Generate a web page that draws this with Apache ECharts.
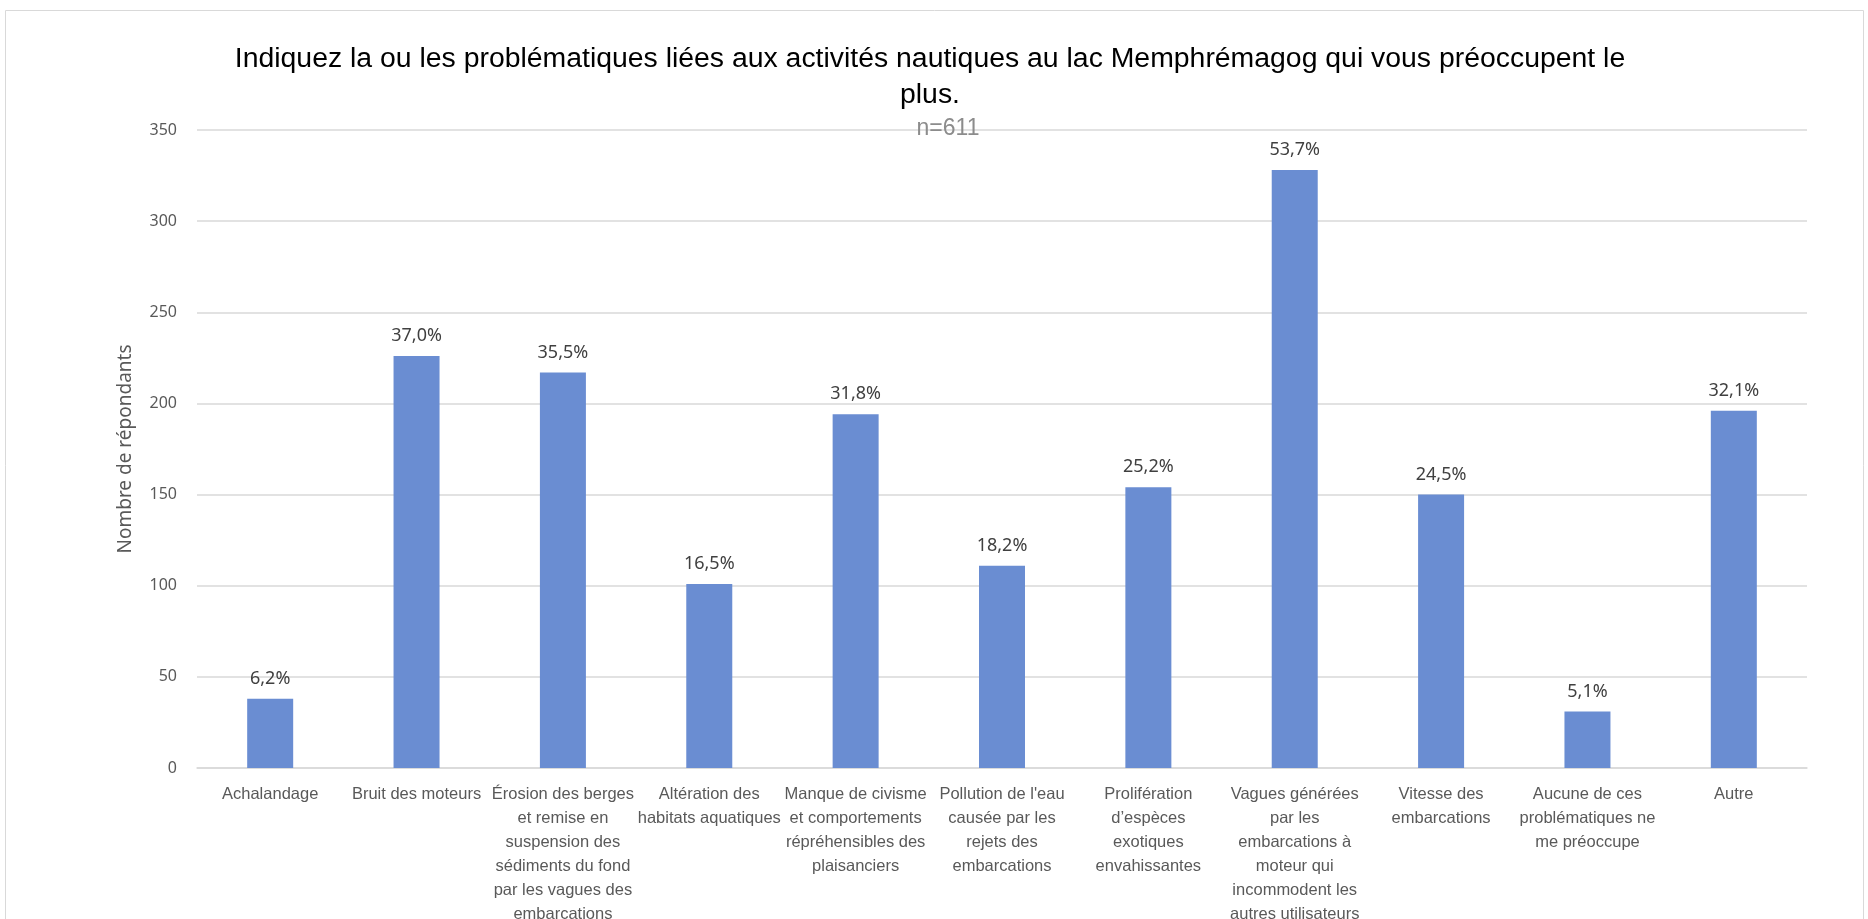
<!DOCTYPE html>
<html>
<head>
<meta charset="utf-8">
<script src="https://cdn.jsdelivr.net/npm/echarts@6/dist/echarts.min.js"></script>
<style>
  html, body { margin: 0; padding: 0; background: #fff; }
  #chart { width: 1868px; height: 919px; }
</style>
</head>
<body>
<div id="chart"></div>
<script>
// catégories (retours à la ligne comme dans l'original)
const categories = [
  'Achalandage',
  'Bruit des moteurs',
  'Érosion des berges\net remise en\nsuspension des\nsédiments du fond\npar les vagues des\nembarcations',
  'Altération des\nhabitats aquatiques',
  'Manque de civisme\net comportements\nrépréhensibles des\nplaisanciers',
  "Pollution de l'eau\ncausée par les\nrejets des\nembarcations",
  'Prolifération\nd’espèces\nexotiques\nenvahissantes',
  'Vagues générées\npar les\nembarcations à\nmoteur qui\nincommodent les\nautres utilisateurs',
  'Vitesse des\nembarcations',
  'Aucune de ces\nproblématiques ne\nme préoccupe',
  'Autre'
]

// nombre de répondants
const repondants = [38, 226, 217, 101, 194, 111, 154, 328, 150, 31, 196]

// étiquettes affichées au-dessus des barres
const pourcentages = ['6,2%', '37,0%', '35,5%', '16,5%', '31,8%', '18,2%', '25,2%', '53,7%', '24,5%', '5,1%', '32,1%']

const yTicks = [0, 50, 100, 150, 200, 250, 300, 350]

const chart = echarts.init(document.getElementById('chart'))

const option = {
  animation: false,
  title: [
    {
      text: 'Indiquez la ou les problématiques liées aux activités nautiques au lac Memphrémagog qui vous préoccupent le\nplus.',
      left: 925,
      top: 36,
      textAlign: 'center',
      textStyle: {
        fontFamily: 'Liberation Sans',
        fontSize: 28.4,
        fontWeight: 'normal',
        color: '#000',
        lineHeight: 36,
        align: 'center'
      }
    },
    {
      text: 'n=611',
      left: 943,
      top: 112,
      textAlign: 'center',
      textStyle: {
        fontFamily: 'Liberation Sans',
        fontSize: 23,
        fontWeight: 'normal',
        color: '#8c8c8c'
      }
    }
  ],
  graphic: [
    {
      type: 'rect',
      shape: { x: 5.5, y: 10.5, width: 1858, height: 920 },
      style: { fill: 'none', stroke: '#d9d9d9', lineWidth: 1 },
      silent: true
    }
  ],
  grid: {
    left: 197,
    right: 61,
    top: 130,
    bottom: 151,
    containLabel: false,
    outerBoundsMode: 'none'
  },
  xAxis: {
    type: 'category',
    data: categories,
    axisLine: { lineStyle: { color: '#d9d9d9', width: 1.5 } },
    axisTick: { show: false },
    axisLabel: {
      interval: 0,
      margin: 14,
      fontFamily: 'Liberation Sans',
      fontSize: 16.5,
      lineHeight: 24,
      color: '#595959'
    }
  },
  yAxis: {
    type: 'value',
    min: yTicks[0],
    max: yTicks[yTicks.length - 1],
    interval: 50,
    name: 'Nombre de répondants',
    nameLocation: 'middle',
    nameRotate: 90,
    nameGap: 62,
    nameTextStyle: {
      fontFamily: 'Noto Sans',
      fontSize: 19,
      color: '#595959'
    },
    axisLine: { show: false },
    axisTick: { show: false },
    axisLabel: {
      margin: 20,
      fontFamily: 'Noto Sans',
      fontSize: 16,
      color: '#595959'
    },
    splitLine: { lineStyle: { color: '#d9d9d9', width: 1.5 } }
  },
  series: [
    {
      type: 'bar',
      data: repondants,
      barWidth: 46,
      itemStyle: { color: '#6a8dd2' },
      label: {
        show: true,
        position: 'top',
        distance: 11,
        fontFamily: 'Noto Sans',
        fontSize: 18,
        color: '#404040',
        formatter: p => pourcentages[p.dataIndex]
      }
    }
  ]
}

chart.setOption(option)
</script>
</body>
</html>
